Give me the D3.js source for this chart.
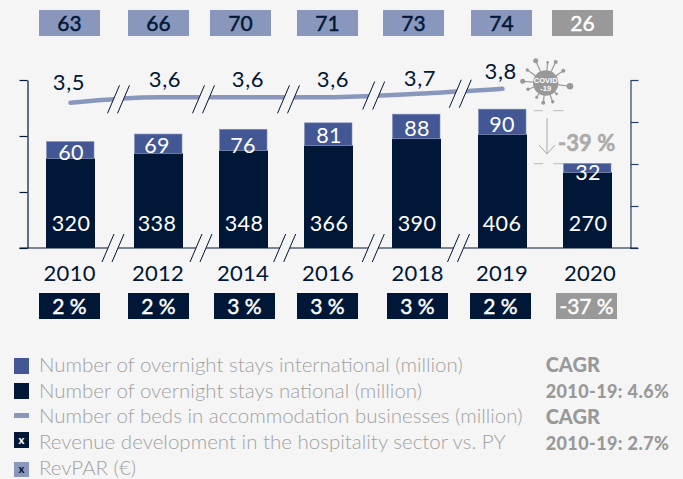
<!DOCTYPE html>
<html><head><meta charset="utf-8">
<script src="https://cdn.jsdelivr.net/npm/d3@7"></script>
<style>html,body{margin:0;padding:0;background:#f5f5f5}svg{display:block}text{font-family:Lato,sans-serif}</style>
</head><body><svg id="c" width="683" height="479"></svg>
<script>
const years = ["2010","2012","2014","2016","2018","2019","2020"];
const national = [320,338,348,366,390,406,270];
const international = [60,69,76,81,88,90,32];
const beds = [3.46,3.59,3.59,3.59,3.67,3.79];
const revpar = [63,66,70,71,73,74,26];
const revenue = [2,2,3,3,3,2,-37];
const leftTicks = [0,200,400,600];
const rightTicks = [0,1,2,3,4];
const legendLabels = ["Number of overnight stays international (million)","Number of overnight stays national (million)","Number of beds in accommodation businesses (million)","Revenue development in the hospitality sector vs. PY","RevPAR (€)"];
const cagrLabels = ["CAGR","2010-19: 4.6%","CAGR","2010-19: 2.7%"];

// layout
const slotX = [70.5,158.5,243.5,328.5,416.5,502.5,587.5];
const topBoxX = [39,128,210,297,383,471,552];
const botBoxX = [39,128,214,297,387,470,556];
const yearX = [69.7,158,243,328,417.7,502,590];
const natLabelX = [71,157,244,329,417,502,588];
const intlLabelX = [71,157,243,329,417,502,588];
const intlLabelY = [160,152.7,153,143,135.7,132,180];
const bedLabelX = [69,165,248,333,420,500.7];
const bedLabelY = [90,86.7,87,87,86,78.7];
const upperBreaks = [[118.5,99.3],[203.5,99.3],[288.5,99.3],[373.7,95.5],[460.3,93.7]];
const lowerBreaks = [[113,248],[201,248],[284.7,248],[373.3,248],[458.5,248]];
const spikes = [[570,86.3,3.3],[522.7,81.3,2.5],[535.7,60.7,2.5],[547.7,62.3,1.3],[555.7,62,2],[563.3,70.7,2],[527.3,70,1.7],[528,89.3,1.7],[536.7,97.3,1.5],[543.3,102.7,2],[552.7,101.7,1.7],[556.7,94,1.3]];

const NAVY="#001737",BLUE="#435795",LIGHT="#8a97bc",GREY="#999999",TXT="#a2a2a2",BG="#f5f5f5";
const svg=d3.select("#c");
const x=d3.scaleOrdinal().domain(years).range(slotX);
const y=d3.scaleLinear().domain([0,600]).range([248,80]);
const yR=d3.scaleLinear().domain([0,4]).range([248,80]);
const barW=49;

// axes
const axL=svg.append("g").attr("transform","translate(27.5,0)").call(d3.axisLeft(y).tickValues(leftTicks).tickFormat("").tickSize(8).tickSizeOuter(0));
const axR=svg.append("g").attr("transform","translate(630.5,0)").call(d3.axisRight(yR).tickValues(rightTicks).tickFormat("").tickSize(8).tickSizeOuter(0));
axL.selectAll("path,line").attr("stroke",NAVY).attr("stroke-width",1.2);
axR.selectAll("path,line").attr("stroke","#2a3f66").attr("stroke-width",1.2);
svg.append("line").attr("x1",19.5).attr("x2",638).attr("y1",y(0)).attr("y2",y(0)).attr("stroke",NAVY).attr("stroke-width",1.2);

// bars
svg.selectAll(".nat").data(years).join("rect").attr("x",d=>x(d)-barW/2).attr("width",barW)
  .attr("y",(d,i)=>y(national[i])).attr("height",(d,i)=>y(0)-y(national[i])).attr("fill",NAVY);
svg.selectAll(".intl").data(years).join("rect").attr("x",d=>x(d)-barW/2+.5).attr("width",barW-1.5)
  .attr("y",(d,i)=>y(national[i]+international[i])).attr("height",(d,i)=>y(national[i])-y(national[i]+international[i]))
  .attr("fill",BLUE).attr("stroke","#7f8db5").attr("stroke-width",.6);

// line
const line=d3.line().x((d,i)=>x(years[i])).y(d=>yR(d)).curve(d3.curveMonotoneX);
svg.append("path").datum(beds).attr("d",line).attr("fill","none").attr("stroke",LIGHT).attr("stroke-width",4.5).attr("stroke-linecap","round");

// breaks
function drawBreak(cx,cy){
  const h=14,s=6,g=5;
  svg.append("polygon").attr("fill",BG).attr("points",[[cx-g-s,cy+h],[cx-g+s,cy-h],[cx+g+s,cy-h],[cx+g-s,cy+h]].join(" "));
  [-g,g].forEach(o=>svg.append("line").attr("x1",cx+o-s).attr("y1",cy+h).attr("x2",cx+o+s).attr("y2",cy-h).attr("stroke",NAVY).attr("stroke-width",1));
}
upperBreaks.forEach(b=>drawBreak(b[0],b[1]));
lowerBreaks.forEach(b=>drawBreak(b[0],b[1]));

function label(xv,yv,t,o){
  o=o||{};
  const n=svg.append("text").attr("x",xv).attr("y",yv).text(t).attr("text-anchor",o.anchor||"middle")
    .attr("font-size",o.size||22).attr("font-weight",o.weight||400).attr("fill",o.fill||NAVY)
    .attr("letter-spacing",o.ls||0);
  if(o.embolden) n.attr("stroke",o.fill||NAVY).attr("stroke-width",o.embolden);
  return n;
}
national.forEach((v,i)=>label(natLabelX[i],231,v,{fill:"#fff",size:21.5,ls:.3}));
international.forEach((v,i)=>label(intlLabelX[i],intlLabelY[i],v,{fill:"#fff",size:21.5,ls:.3}));
beds.forEach((v,i)=>label(bedLabelX[i],bedLabelY[i],v.toFixed(1).replace(".",","),{ls:.6}));
years.forEach((v,i)=>label(yearX[i],281,v,{ls:.3}));

// top and bottom boxes
revpar.forEach((v,i)=>{
  const last=i===revpar.length-1;
  svg.append("rect").attr("x",topBoxX[i]).attr("y",10).attr("width",61).attr("height",26).attr("fill",last?GREY:LIGHT);
  label(topBoxX[i]+30.5,31,v,{fill:last?"#fff":NAVY,size:21,embolden:.45});
});
revenue.forEach((v,i)=>{
  const last=i===revenue.length-1;
  svg.append("rect").attr("x",botBoxX[i]).attr("y",293).attr("width",61).attr("height",26).attr("fill",last?GREY:NAVY);
  label(botBoxX[i]+30.5,314,v+"\u2005%",{fill:"#fff",size:21,embolden:.45});
});

// covid
const cc=[545.7,83];
const virus=svg.append("g").attr("fill",GREY).attr("stroke",GREY);
spikes.forEach(s=>{
  virus.append("line").attr("x1",cc[0]).attr("y1",cc[1]).attr("x2",s[0]).attr("y2",s[1]).attr("stroke-width",1.2);
  virus.append("circle").attr("cx",s[0]).attr("cy",s[1]).attr("r",s[2]).attr("stroke","none");
});
virus.append("circle").attr("cx",cc[0]).attr("cy",cc[1]).attr("r",12.7).attr("stroke","none");
svg.append("text").attr("x",cc[0]).attr("y",82.5).attr("text-anchor","middle").attr("font-size",7.5).attr("font-weight",700).attr("fill","#fff").style("font-family","Liberation Sans").text("COVID");
svg.append("text").attr("x",cc[0]).attr("y",90.5).attr("text-anchor","middle").attr("font-size",7.5).attr("font-weight",700).attr("fill","#fff").style("font-family","Liberation Sans").text("-19");

// drop annotation
[110.7,163.7].forEach(yy=>{
  [[533.7,543],[553.3,563.5]].forEach(p=>svg.append("line").attr("x1",p[0]).attr("x2",p[1]).attr("y1",yy).attr("y2",yy).attr("stroke","#bbb").attr("stroke-width",1));
});
svg.append("path").attr("d","M547,118V154M539,145L547,154L555,145").attr("fill","none").attr("stroke","#aaa").attr("stroke-width",1);
label(558,151,"-39\u2005%",{anchor:"start",fill:"#aaaaaa",weight:700,size:22,embolden:.5});

// legend
const rowY=[371.7,397.5,423,449,474.5];
const mk=svg.append("g");
mk.append("rect").attr("x",14).attr("y",358).attr("width",15).attr("height",16).attr("fill",BLUE);
mk.append("rect").attr("x",14).attr("y",383).attr("width",15).attr("height",16).attr("fill",NAVY);
mk.append("rect").attr("x",14).attr("y",413).attr("width",15).attr("height",5).attr("fill",LIGHT);
mk.append("rect").attr("x",14).attr("y",432).attr("width",15).attr("height",16).attr("fill",NAVY);
mk.append("rect").attr("x",14).attr("y",462).attr("width",15).attr("height",15).attr("fill",LIGHT);
label(21.5,443.5,"x",{fill:"#fff",size:11,weight:900});
label(21.5,473,"x",{fill:NAVY,size:11,weight:900});
legendLabels.forEach((t,i)=>label(39,rowY[i],t,{anchor:"start",fill:TXT,size:20.5,weight:300}));
cagrLabels.forEach((t,i)=>label(545.7,[371.5,398,423.5,449.5][i],t,{anchor:"start",fill:GREY,size:i%2?18:20,weight:900,ls:i%2?.4:0}));
</script></body></html>
